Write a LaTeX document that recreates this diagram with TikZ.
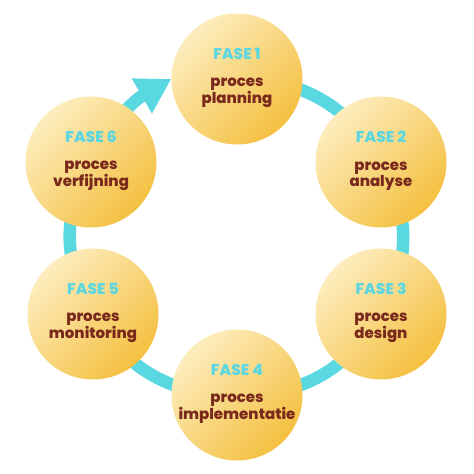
\documentclass[tikz,border=0pt]{standalone}
\usepackage{fontspec}
\setmainfont{Poppins}[BoldFont={Poppins ExtraBold}]
\usetikzlibrary{arrows.meta,backgrounds}
\definecolor{ringc}{HTML}{5AD8E2}
\definecolor{fasec}{HTML}{5CD6E0}
\definecolor{darkred}{HTML}{7A2A1C}
\definecolor{lighty}{HTML}{FDEDBE}
\definecolor{darky}{HTML}{F4C040}
\tikzset{
  phase/.style={circle, minimum size=131pt, inner sep=0pt, top color=lighty, bottom color=darky, shading angle=45},
  ring/.style={line width=12.5pt, draw=ringc},
  fase/.style={font=\bfseries\fontsize{15.5}{15.5}\selectfont, text=fasec, inner sep=0pt},
  desc/.style={font=\bfseries\fontsize{15}{13}\selectfont, text=darkred, align=center, inner sep=0pt},
}
\begin{document}
\begin{tikzpicture}[x=1pt,y=1pt]
\useasboundingbox (0,0) rectangle (474,474);
\node[phase] (p1) at (237,395) {};
\node[phase] (p2) at (381,312) {};
\node[phase] (p3) at (381,160) {};
\node[phase] (p4) at (237,79) {};
\node[phase] (p5) at (93,160) {};
\node[phase] (p6) at (91,312) {};
\node[fase] (f1) at (237,420) {FASE 1};
\node[fase] (f2) at (381,337) {FASE 2};
\node[fase] (f3) at (381,185) {FASE 3};
\node[fase] (f4) at (237,104) {FASE 4};
\node[fase] (f5) at (93,185) {FASE 5};
\node[fase] (f6) at (91,337) {FASE 6};
\node[desc] (d1) at (237,381) {proces\\planning};
\node[desc] (d2) at (381,298) {proces\\analyse};
\node[desc] (d3) at (381,146) {proces\\design};
\node[desc] (d4) at (237,65) {proces\\implementatie};
\node[desc] (d5) at (93,146) {proces\\monitoring};
\node[desc] (d6) at (91,298) {proces\\verfijning};
\begin{scope}[on background layer]
\fill[white] (0,0) rectangle (474,474);
\draw[ring] (p1.center) to[bend left=30] (p2.center);
\draw[ring] (p2.center) to[bend left=30] (p3.center);
\draw[ring] (p3.center) to[bend left=30] (p4.center);
\draw[ring] (p4.center) to[bend left=30] (p5.center);
\draw[ring] (p5.center) to[bend left=30] (p6.center);
\draw[ring, -{Triangle[length=34pt,width=38pt]}] (p6.center) to[bend left=16] (p1.west);
\end{scope}
\end{tikzpicture}
\end{document}
